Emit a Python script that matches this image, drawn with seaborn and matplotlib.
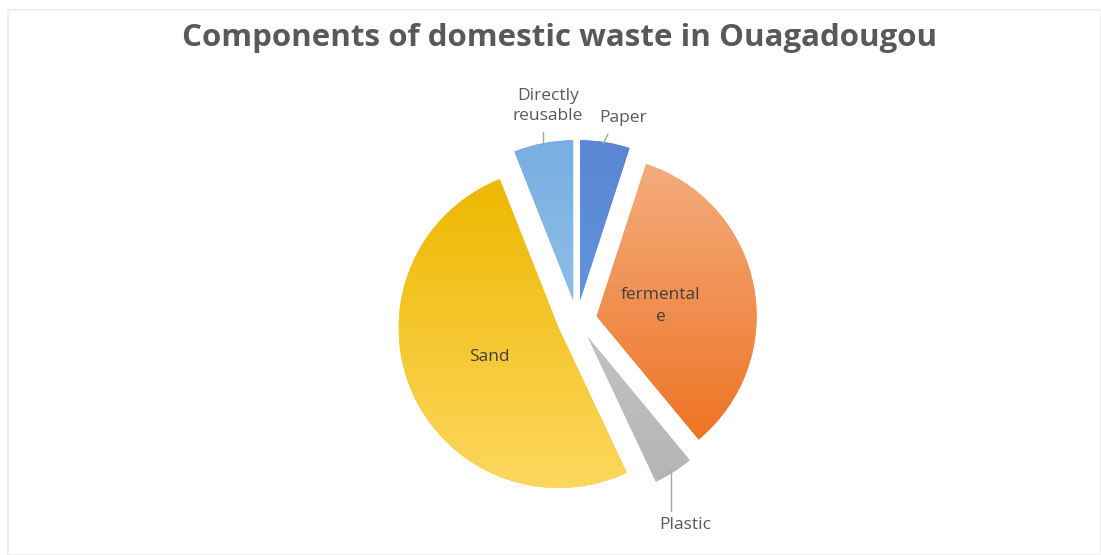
import matplotlib
matplotlib.use("Agg")
import matplotlib.pyplot as plt
import seaborn as sns
import numpy as np
from matplotlib.patches import Rectangle
from matplotlib.colors import LinearSegmentedColormap

sns.set_theme(style="white")
plt.rcParams['font.family'] = ['Open Sans', 'DejaVu Sans']

# Data (clockwise from 12 o'clock)
categories = ["Paper", "fermentale", "Plastic", "Sand", "Directly reusable"]
values = [5, 34, 4, 51, 6]
colors = ["#5C8DD7", "#F2945A", "#BDBDBD", "#FAC623", "#80B4E4"]
# gradient (top colour, bottom colour) per slice
grad_top = ["#5A86D4", "#F4AC7E", "#C2C2C2", "#EDB800", "#78AEE1"]
grad_bot = ["#6294DB", "#EE7424", "#B5B5B5", "#FDD75E", "#8CBEE8"]

W, H = 1101, 555
fig = plt.figure(figsize=(W / 100, H / 100), dpi=100)
fig.patch.set_facecolor("white")

# faint chart border
fig.add_artist(Rectangle((8 / W, 0.0), (W - 8) / W, (H - 10) / H, transform=fig.transFigure,
                         fill=False, edgecolor="#EFEFEF", linewidth=1.5))

cx, cy, R = 577, 320, 160
half = 1.3 * R
ax = fig.add_axes([(cx - half) / W, (H - cy - half) / H, 2 * half / W, 2 * half / H])

wedges, _ = ax.pie(values, colors=colors, startangle=90, counterclock=False,
                   explode=[0.125] * len(values), radius=1.0,
                   wedgeprops=dict(linewidth=0))
ax.set_xlim(-1.3, 1.3)
ax.set_ylim(-1.3, 1.3)
ax.set_aspect("equal")
ax.axis("off")

# gradient fills clipped to each wedge
fig.canvas.draw()
grad = np.linspace(0, 1, 256).reshape(-1, 1)
for w, ct, cb in zip(wedges, grad_top, grad_bot):
    bb = w.get_path().get_extents(w.get_patch_transform())
    cmap = LinearSegmentedColormap.from_list("g", [ct, cb])
    im = ax.imshow(grad, cmap=cmap, aspect="auto", origin="upper",
                   extent=[bb.x0, bb.x1, bb.y0, bb.y1], zorder=w.get_zorder() + 0.1)
    im.set_clip_path(w)
ax.set_xlim(-1.3, 1.3)
ax.set_ylim(-1.3, 1.3)


def px(x, y):
    return ((x - cx) / R, (cy - y) / R)


lab_col = "#595959"
in_col = "#404040"
fs = 12.5
lc = "#A6A6A6"
# inside labels
ax.text(*px(489, 357), "Sand", ha="center", va="center", fontsize=fs, color=in_col, zorder=5)
ax.text(*px(661, 306), "fermental\ne", ha="center", va="center", fontsize=fs,
        color=in_col, linespacing=1.55, zorder=5)
# outside labels with leader lines
ax.text(*px(548, 106), "Directly\nreusable", ha="center", va="center", fontsize=fs,
        color=lab_col, linespacing=1.35)
ax.plot(*zip(px(543, 132), px(543, 143)), color=lc, lw=1)
ax.text(*px(623, 118), "Paper", ha="center", va="center", fontsize=fs, color=lab_col)
ax.plot(*zip(px(608, 134), px(603, 144)), color=lc, lw=1)
ax.text(*px(685, 525), "Plastic", ha="center", va="center", fontsize=fs, color=lab_col)
ax.plot(*zip(px(671, 470), px(671, 511)), color=lc, lw=1)

fig.text(560 / W, 1 - 38 / H, "Components of domestic waste in Ouagadougou",
         ha="center", va="center", fontsize=22.5, fontweight="bold", color="#595959")

fig.savefig("out.png", dpi=100, facecolor="white")
